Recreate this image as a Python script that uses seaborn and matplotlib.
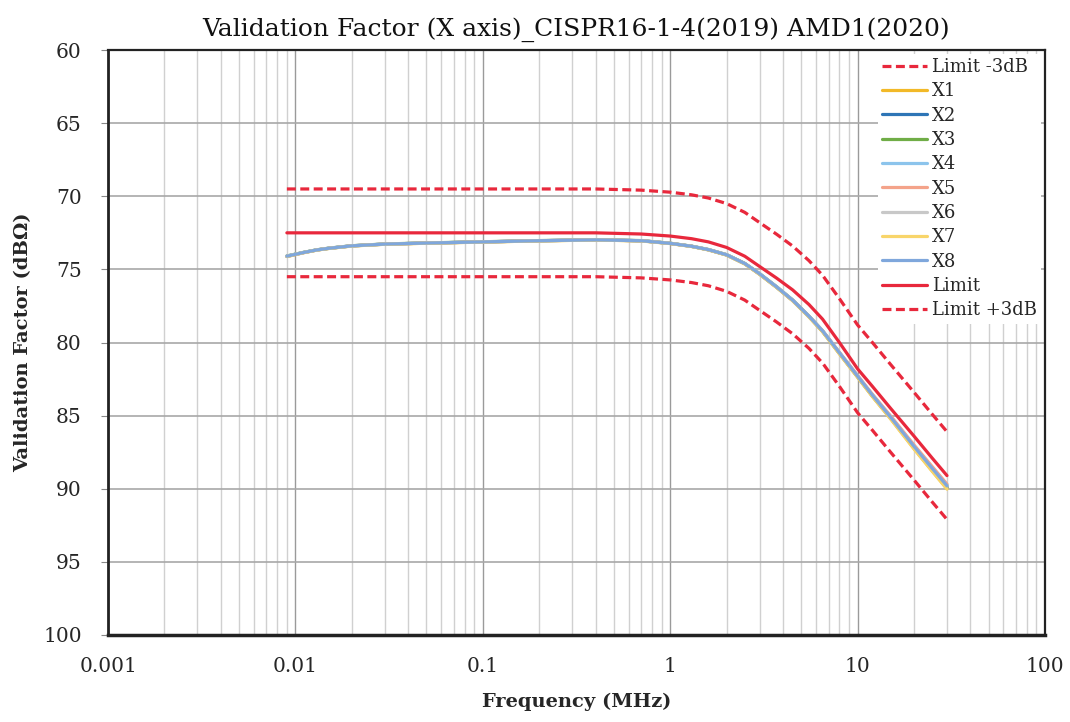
import matplotlib
matplotlib.use("Agg")
import matplotlib.pyplot as plt
import matplotlib.ticker as mticker
import seaborn as sns
import pandas as pd

# frequency points (MHz)
freq = [0.009, 0.011, 0.013, 0.015, 0.02, 0.03, 0.05, 0.1, 0.2, 0.4,
        0.7, 1, 1.3, 1.6, 2, 2.5, 3, 3.7, 4.5, 5.5,
        6.5, 8, 10, 12, 15, 20, 25, 30]

limit = [72.5, 72.5, 72.5, 72.5, 72.5, 72.5, 72.5, 72.5, 72.5, 72.5,
         72.58, 72.72, 72.9, 73.12, 73.5, 74.1, 74.8, 75.6, 76.4, 77.4,
         78.4, 80.0, 81.8, 83.0, 84.5, 86.4, 87.9, 89.1]
limit_m3 = [69.5, 69.5, 69.5, 69.5, 69.5, 69.5, 69.5, 69.5, 69.5, 69.5,
            69.58, 69.72, 69.9, 70.12, 70.5, 71.1, 71.8, 72.6, 73.4, 74.4,
            75.4, 77.0, 78.8, 80.0, 81.5, 83.4, 84.9, 86.1]
limit_p3 = [75.5, 75.5, 75.5, 75.5, 75.5, 75.5, 75.5, 75.5, 75.5, 75.5,
            75.58, 75.72, 75.9, 76.12, 76.5, 77.1, 77.8, 78.6, 79.4, 80.4,
            81.4, 83.0, 84.8, 86.0, 87.5, 89.4, 90.9, 92.1]

x1 = [74.12, 73.86, 73.68, 73.57, 73.40, 73.28, 73.21, 73.13, 73.05, 72.99,
      73.05, 73.23, 73.43, 73.66, 74.02, 74.62, 75.33, 76.23, 77.13, 78.24,
      79.25, 80.76, 82.36, 83.68, 85.20, 87.25, 88.78, 90.00]
x2 = [74.10, 73.85, 73.67, 73.56, 73.39, 73.27, 73.20, 73.12, 73.04, 72.98,
      73.04, 73.22, 73.42, 73.66, 74.01, 74.61, 75.32, 76.22, 77.12, 78.22,
      79.23, 80.74, 82.34, 83.66, 85.16, 87.20, 88.72, 89.92]
x3 = [74.08, 73.84, 73.66, 73.55, 73.38, 73.26, 73.19, 73.11, 73.03, 72.97,
      73.03, 73.21, 73.41, 73.64, 73.99, 74.59, 75.29, 76.19, 77.09, 78.19,
      79.20, 80.71, 82.31, 83.62, 85.12, 87.14, 88.66, 89.85]
x4 = [74.09, 73.85, 73.67, 73.56, 73.39, 73.27, 73.20, 73.12, 73.04, 72.98,
      73.04, 73.22, 73.42, 73.65, 74.00, 74.60, 75.30, 76.20, 77.10, 78.20,
      79.20, 80.69, 82.28, 83.58, 85.06, 87.06, 88.55, 89.75]
x5 = [74.11, 73.86, 73.67, 73.56, 73.39, 73.27, 73.20, 73.12, 73.04, 72.98,
      73.04, 73.22, 73.42, 73.65, 74.00, 74.60, 75.31, 76.21, 77.11, 78.20,
      79.19, 80.67, 82.25, 83.54, 85.02, 87.00, 88.48, 89.68]
x6 = [74.10, 73.85, 73.67, 73.56, 73.39, 73.27, 73.20, 73.12, 73.04, 72.98,
      73.04, 73.22, 73.42, 73.65, 74.00, 74.60, 75.30, 76.20, 77.10, 78.21,
      79.21, 80.71, 82.31, 83.61, 85.11, 87.12, 88.62, 89.81]
x7 = [74.12, 73.86, 73.68, 73.57, 73.40, 73.28, 73.21, 73.13, 73.05, 72.99,
      73.05, 73.23, 73.43, 73.67, 74.02, 74.63, 75.34, 76.24, 77.14, 78.25,
      79.26, 80.78, 82.38, 83.70, 85.22, 87.28, 88.80, 90.02]
x8 = [74.10, 73.85, 73.67, 73.56, 73.39, 73.27, 73.20, 73.12, 73.04, 72.98,
      73.04, 73.22, 73.42, 73.65, 74.00, 74.60, 75.30, 76.20, 77.10, 78.20,
      79.20, 80.70, 82.30, 83.60, 85.10, 87.10, 88.60, 89.80]

names = ["Limit -3dB", "X1", "X2", "X3", "X4", "X5", "X6", "X7", "X8",
         "Limit", "Limit +3dB"]
values = [limit_m3, x1, x2, x3, x4, x5, x6, x7, x8, limit, limit_p3]
colors = ["#e8283c", "#f2b928", "#2e75b6", "#70ad47", "#8cc4ec", "#f4a38a",
          "#c8c8c8", "#f8d56a", "#7fa7dc", "#e8283c", "#e8283c"]
dashed = ["Limit -3dB", "Limit +3dB"]

sns.set_style("white")
plt.rcParams["font.family"] = ["DejaVu Serif"]

fig = plt.figure(figsize=(10.7, 7.22), dpi=100)
ax = fig.add_axes([0.101, 0.1205, 0.8756, 0.8102])

for name, vals, c in zip(names, values, colors):
    df = pd.DataFrame({"freq": freq, "vf": vals})
    if name in dashed:
        sns.lineplot(data=df, x="freq", y="vf", ax=ax, color=c, lw=2.3,
                     label=name, estimator=None,
                     linestyle=(0, (2.8, 1.4)))
    else:
        sns.lineplot(data=df, x="freq", y="vf", ax=ax, color=c, lw=2.3,
                     label=name, estimator=None)

ax.set_xscale("log")
ax.set_xlim(0.001, 100)
ax.set_ylim(100, 60)
ax.set_yticks(range(60, 101, 5))
ax.xaxis.set_major_locator(mticker.LogLocator(base=10, numticks=10))
ax.xaxis.set_minor_locator(mticker.LogLocator(base=10, subs=range(2, 10), numticks=20))
ax.xaxis.set_major_formatter(mticker.FuncFormatter(lambda v, p: "%g" % v))
ax.xaxis.set_minor_formatter(mticker.NullFormatter())

ax.grid(True, which="major", axis="x", color="#9a9a9a", lw=1.0)
ax.grid(True, which="minor", axis="x", color="#d0d0d0", lw=1.0)
ax.grid(True, which="major", axis="y", color="#a8a8a8", lw=1.2)
ax.set_axisbelow(True)

ax.tick_params(axis="x", which="both", length=0, labelsize=14.5, pad=16)
ax.tick_params(axis="y", which="major", length=5, color="#888888",
               direction="out", labelsize=14.5, pad=14, left=True)

for s in ax.spines.values():
    s.set_color("#222222")
    s.set_linewidth(1.6)
ax.spines["bottom"].set_linewidth(2.5)
ax.spines["left"].set_linewidth(2.0)

ax.set_xlabel("Frequency (MHz)", fontsize=14, fontweight="bold", labelpad=12)
ax.set_ylabel("Validation Factor (dB\u03a9)", fontsize=14, fontweight="bold",
              labelpad=8)
ax.set_title("Validation Factor (X axis)_CISPR16-1-4(2019) AMD1(2020)",
             fontsize=18, pad=10, color="#111111")

leg = ax.legend(loc="upper right", fontsize=13, frameon=True, fancybox=False,
                framealpha=1, facecolor="white", edgecolor="none",
                handlelength=2.5, handletextpad=0.25, labelspacing=0.35,
                borderpad=0.25, borderaxespad=0.2)

plt.savefig("out.png", dpi=100)
